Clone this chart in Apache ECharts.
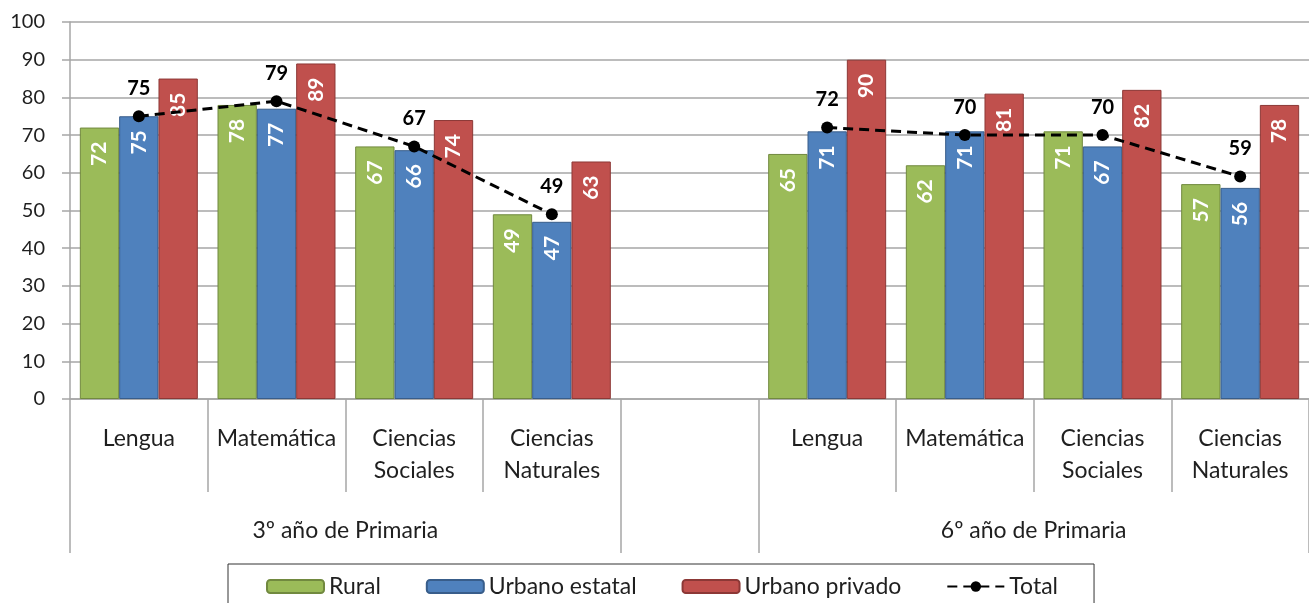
<!DOCTYPE html>
<html>
<head>
<meta charset="utf-8">
<script src="https://cdn.jsdelivr.net/npm/echarts@6/dist/echarts.min.js"></script>
<style>
	html, body { margin: 0; padding: 0; background: #fff; }
	#chart { width: 1309px; height: 603px; }
</style>
</head>
<body>
<div id="chart"></div>
<script>
// subjects per grade, with an empty slot between both grades
const subjects = ["Lengua", "Matemática", "Ciencias\nSociales", "Ciencias\nNaturales", "", "Lengua", "Matemática", "Ciencias\nSociales", "Ciencias\nNaturales"];
const grades = ["3º año de Primaria", "6º año de Primaria"];
const gradeCenters = [2, 7];
const gradeBounds = [0, 4, 5, 9];

const rural = [72, 78, 67, 49, null, 65, 62, 71, 57];
const urbanoEstatal = [75, 77, 66, 47, null, 71, 71, 67, 56];
const urbanoPrivado = [85, 89, 74, 63, null, 90, 81, 82, 78];
const total = [75, 79, 67, 49, null, 72, 70, 70, 59];

const yTicks = { min: 0, max: 100, step: 10 };

const font = "Lato";
const textColor = "#1f1f1f";
const gridColor = "#a6a6a6";

function barSeries(name, data, color, border) {
	return {
		name: name,
		type: "bar",
		data: data,
		barGap: "0%",
		barCategoryGap: "14.3%",
		itemStyle: { color: color, borderColor: border, borderWidth: 1 },
		label: {
			show: true,
			position: "insideTop",
			distance: 14,
			rotate: 90,
			align: "right",
			verticalAlign: "middle",
			color: "#fff",
			fontFamily: font,
			fontWeight: "bold",
			fontSize: 21,
		},
	};
}

let chart = echarts.init(document.getElementById("chart"));

let option = {
	animation: false,
	backgroundColor: "#fff",
	grid: { left: 70, right: 0, top: 22, bottom: 204 },
	legend: {
		left: 228,
		top: 564,
		padding: [11, 36, 20, 38],
		borderColor: "#333",
		borderWidth: 1,
		itemWidth: 57,
		itemHeight: 13,
		itemGap: 45,
		textStyle: { fontFamily: font, fontSize: 23, color: textColor },
		data: ["Rural", "Urbano estatal", "Urbano privado", "Total"],
	},
	xAxis: [
		{
			type: "category",
			data: subjects,
			axisLine: { lineStyle: { color: gridColor, width: 1.5 } },
			axisTick: { show: true, interval: 0, length: 93, lineStyle: { color: gridColor, width: 1.5 } },
			axisLabel: {
				interval: 0,
				margin: 24,
				fontFamily: font,
				fontSize: 23,
				lineHeight: 32,
				color: textColor,
			},
		},
		{
			type: "value",
			position: "bottom",
			min: 0,
			max: 9,
			splitLine: { show: false },
			axisLine: { show: false },
			axisTick: {
				show: true,
				customValues: gradeBounds,
				length: 154,
				lineStyle: { color: gridColor, width: 1.5 },
			},
			axisLabel: {
				customValues: gradeCenters,
				formatter: (v) => grades[gradeCenters.indexOf(v)] || "",
				margin: 116,
				fontFamily: font,
				fontSize: 23,
				lineHeight: 32,
				color: textColor,
			},
		},
	],
	yAxis: {
		type: "value",
		min: yTicks.min,
		max: yTicks.max,
		interval: yTicks.step,
		axisLine: { show: true, lineStyle: { color: gridColor, width: 1.5 } },
		axisTick: { show: true, length: 8, lineStyle: { color: gridColor, width: 1.5 } },
		splitLine: { lineStyle: { color: gridColor, width: 1.5 } },
		axisLabel: { margin: 25, fontFamily: font, fontSize: 20, color: textColor },
	},
	series: [
		barSeries("Rural", rural, "#9bbb59", "#71893f"),
		barSeries("Urbano estatal", urbanoEstatal, "#4f81bd", "#385d8a"),
		barSeries("Urbano privado", urbanoPrivado, "#c0504d", "#8c3836"),
		{
			name: "Total",
			type: "line",
			data: total,
			z: 5,
			symbol: "circle",
			symbolSize: 12,
			connectNulls: false,
			itemStyle: { color: "#000" },
			lineStyle: { color: "#000", width: 3, type: [10, 6] },
			label: {
				show: true,
				position: "top",
				distance: 12,
				color: "#000",
				fontFamily: font,
				fontWeight: "bold",
				fontSize: 20,
			},
		},
	],
};

chart.setOption(option);
</script>
</body>
</html>
